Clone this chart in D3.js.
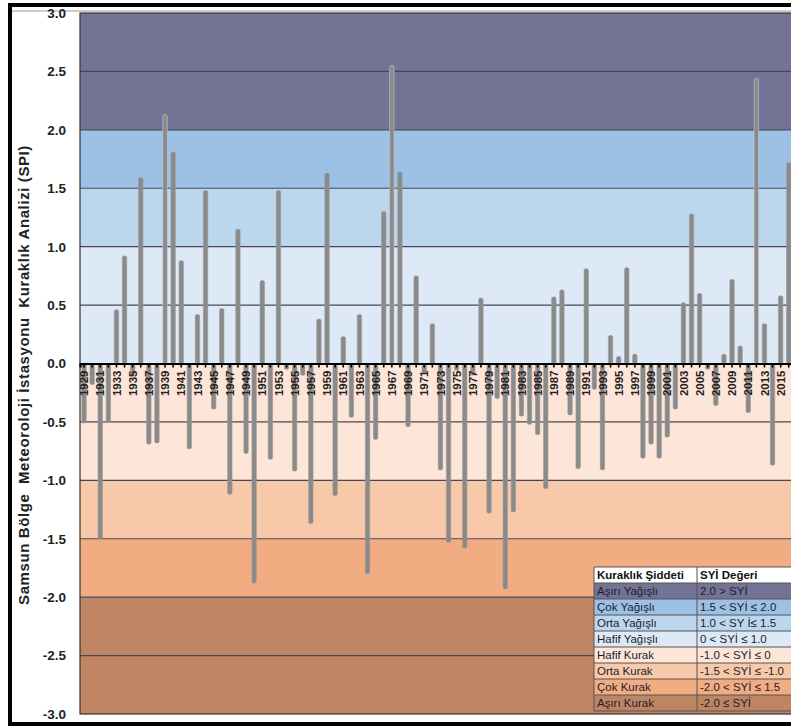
<!DOCTYPE html>
<html>
<head>
<meta charset="utf-8">
<script src="https://cdn.jsdelivr.net/npm/d3@7"></script>
<style>
  html, body { margin: 0; padding: 0; background: #ffffff; }
  svg { display: block; }
  text { font-family: "Liberation Sans", Arial, sans-serif; }
</style>
</head>
<body>
<svg id="chart" width="791" height="728"></svg>
<script>
// ---------- DATA ----------
const years = d3.range(1929, 2017);
const spi = [
  -0.51, -0.18, -1.50, -0.50, 0.46, 0.92, -0.10, 1.59, -0.69, -0.68,
  2.13, 1.81, 0.88, -0.73, 0.42, 1.48, -0.39, 0.47, -1.12, 1.15,
  -0.77, -1.88, 0.71, -0.82, 1.48, -0.05, -0.92, -0.10, -1.37, 0.38,
  1.63, -1.13, 0.23, -0.46, 0.42, -1.80, -0.65, 1.30, 2.55, 1.64,
  -0.54, 0.75, -0.08, 0.34, -0.91, -1.53, -0.06, -1.58, -0.10, 0.56,
  -1.28, -0.30, -1.93, -1.27, -0.45, -0.52, -0.61, -1.07, 0.57, 0.63,
  -0.44, -0.90, 0.81, -0.22, -0.91, 0.24, 0.06, 0.82, 0.08, -0.81,
  -0.69, -0.81, -0.63, -0.39, 0.52, 1.28, 0.60, -0.05, -0.36, 0.08,
  0.72, 0.15, -0.42, 2.44, 0.34, -0.87, 0.58, 1.72
];
const yTicks = [3.0, 2.5, 2.0, 1.5, 1.0, 0.5, 0.0, -0.5, -1.0, -1.5, -2.0, -2.5, -3.0];
const bandLow  = [2.0, 1.5, 1.0, 0.0, -1.0, -1.5, -2.0, -3.0];
const bandHigh = [3.0, 2.0, 1.5, 1.0, 0.0, -1.0, -1.5, -2.0];
const legendClass = ["Aşırı Yağışlı", "Çok Yağışlı", "Orta Yağışlı", "Hafif Yağışlı",
                     "Hafif Kurak", "Orta Kurak", "Çok Kurak", "Aşırı Kurak"];
const legendRange = ["2.0 > SYİ", "1.5 < SYİ ≤ 2.0", "1.0 < SY İ≤ 1.5", "0 < SYİ ≤ 1.0",
                     "-1.0 < SYİ ≤ 0", "-1.5 < SYİ ≤ -1.0", "-2.0 < SYİ ≤ 1.5", "-2.0 ≤ SYİ"];
const legendHeader = ["Kuraklık Şiddeti", "SYİ Değeri"];
const yTitle = "Samsun Bölge  Meteoroloji İstasyonu  Kuraklık Analizi (SPI)";

// ---------- STYLE ----------
const bandColors = ["#737396", "#9cc1e5", "#bcd6ee", "#dde9f6", "#fde5d7", "#f8c9a9", "#f2ac82", "#bf8563"];

const svg = d3.select("#chart");
const pLeft = 80, pRight = 792.8, pTop = 13, pBottom = 714;

const x = d3.scaleBand().domain(years).range([pLeft, pRight]).padding(0);
const y = d3.scaleLinear().domain([-3, 3]).range([pBottom, pTop]);

// outer frame
svg.append("rect").attr("x", 10).attr("y", 5).attr("width", 800).attr("height", 719)
  .attr("fill", "none").attr("stroke", "#000").attr("stroke-width", 4);
svg.append("line").attr("x1", 12).attr("x2", 791).attr("y1", 11).attr("y2", 11)
  .attr("stroke", "#9a9a9a").attr("stroke-width", 1);

// bands
svg.append("g").selectAll("rect").data(bandLow).join("rect")
  .attr("x", pLeft).attr("width", pRight - pLeft)
  .attr("y", (d, i) => y(bandHigh[i]))
  .attr("height", (d, i) => y(d) - y(bandHigh[i]))
  .attr("fill", (d, i) => bandColors[i]);

// grid
svg.append("g").selectAll("line").data(yTicks.filter(v => v !== 0 && Math.abs(v) < 3)).join("line")
  .attr("x1", pLeft).attr("x2", pRight)
  .attr("y1", d => y(d)).attr("y2", d => y(d))
  .attr("stroke", "#4a4658").attr("stroke-width", 1.1);

// plot border
svg.append("rect").attr("x", pLeft).attr("y", pTop).attr("width", pRight - pLeft).attr("height", pBottom - pTop)
  .attr("fill", "none").attr("stroke", "#333").attr("stroke-width", 1.2);

// y tick labels
svg.append("g").selectAll("text").data(yTicks).join("text")
  .attr("x", 66).attr("y", d => y(d)).attr("dy", "0.36em")
  .attr("text-anchor", "end")
  .attr("font-size", 13.5).attr("font-weight", "bold").attr("fill", "#222")
  .text(d => d.toFixed(1));

// y title
svg.append("text")
  .attr("transform", `translate(29,${375}) rotate(-90)`)
  .attr("text-anchor", "middle")
  .attr("font-size", 15).attr("font-weight", "bold").attr("fill", "#222")
  .attr("letter-spacing", 0.6)
  .style("white-space", "pre")
  .text(yTitle);

// bars
const bw = 4.4;
svg.append("g").selectAll("rect").data(years).join("rect")
  .attr("x", d => x(d) + x.bandwidth() / 2 - bw / 2)
  .attr("width", bw)
  .attr("y", (d, i) => y(Math.max(0, spi[i])))
  .attr("height", (d, i) => Math.abs(y(spi[i]) - y(0)))
  .attr("rx", 1.6)
  .attr("fill", "#8a8a8a")
  .attr("stroke", (d, i) => spi[i] > 2 ? "#c8c8cc" : "#9a9a9a")
  .attr("stroke-width", 0.6);

// x axis at zero
const xAxis = d3.axisBottom(x)
  .tickSize(4)
  .tickFormat((d, i) => i % 2 === 0 ? d : "");
const gx = svg.append("g").attr("transform", `translate(0,${y(0)})`).call(xAxis);
gx.select(".domain").attr("stroke", "#000").attr("stroke-width", 2.2);
gx.selectAll(".tick line").attr("stroke", "#000").attr("stroke-width", 1.6);
gx.selectAll(".tick text")
  .attr("transform", "rotate(-90)")
  .attr("text-anchor", "end")
  .attr("x", -7).attr("y", 0).attr("dy", "0.36em")
  .attr("font-family", "Liberation Sans, Arial, sans-serif")
  .attr("font-size", 11.5).attr("font-weight", "bold").attr("fill", "#222");

// legend table
const lx = 594, ly = 567, rowH = 16, c1 = 103, c2 = 110;
const lg = svg.append("g");
lg.append("rect").attr("x", lx).attr("y", ly).attr("width", c1 + c2).attr("height", rowH)
  .attr("fill", "#ffffff");
lg.selectAll("rect.row").data(legendClass).join("rect").attr("class", "row")
  .attr("x", lx).attr("y", (d, i) => ly + rowH * (i + 1))
  .attr("width", c1 + c2).attr("height", rowH)
  .attr("fill", (d, i) => bandColors[i]);
for (let i = 0; i <= legendClass.length + 1; i++) {
  lg.append("line").attr("x1", lx).attr("x2", lx + c1 + c2)
    .attr("y1", ly + rowH * i).attr("y2", ly + rowH * i)
    .attr("stroke", "#555").attr("stroke-width", 1);
}
lg.append("line").attr("x1", lx).attr("x2", lx).attr("y1", ly).attr("y2", ly + rowH * 9)
  .attr("stroke", "#555");
lg.append("line").attr("x1", lx + c1).attr("x2", lx + c1).attr("y1", ly).attr("y2", ly + rowH * 9)
  .attr("stroke", "#555");
lg.selectAll("text.h").data(legendHeader).join("text").attr("class", "h")
  .attr("x", (d, i) => lx + 3 + i * c1).attr("y", ly + rowH / 2).attr("dy", "0.36em")
  .attr("font-size", 11.5).attr("font-weight", "bold").attr("fill", "#111").text(d => d);
lg.selectAll("text.c").data(legendClass).join("text").attr("class", "c")
  .attr("x", lx + 3).attr("y", (d, i) => ly + rowH * (i + 1.5)).attr("dy", "0.36em")
  .attr("font-size", 11.5).attr("fill", "#1c1c30").text(d => d);
lg.selectAll("text.r").data(legendRange).join("text").attr("class", "r")
  .attr("x", lx + c1 + 3).attr("y", (d, i) => ly + rowH * (i + 1.5)).attr("dy", "0.36em")
  .attr("font-size", 11.5).attr("fill", "#1c1c30").text(d => d);
</script>
</body>
</html>
